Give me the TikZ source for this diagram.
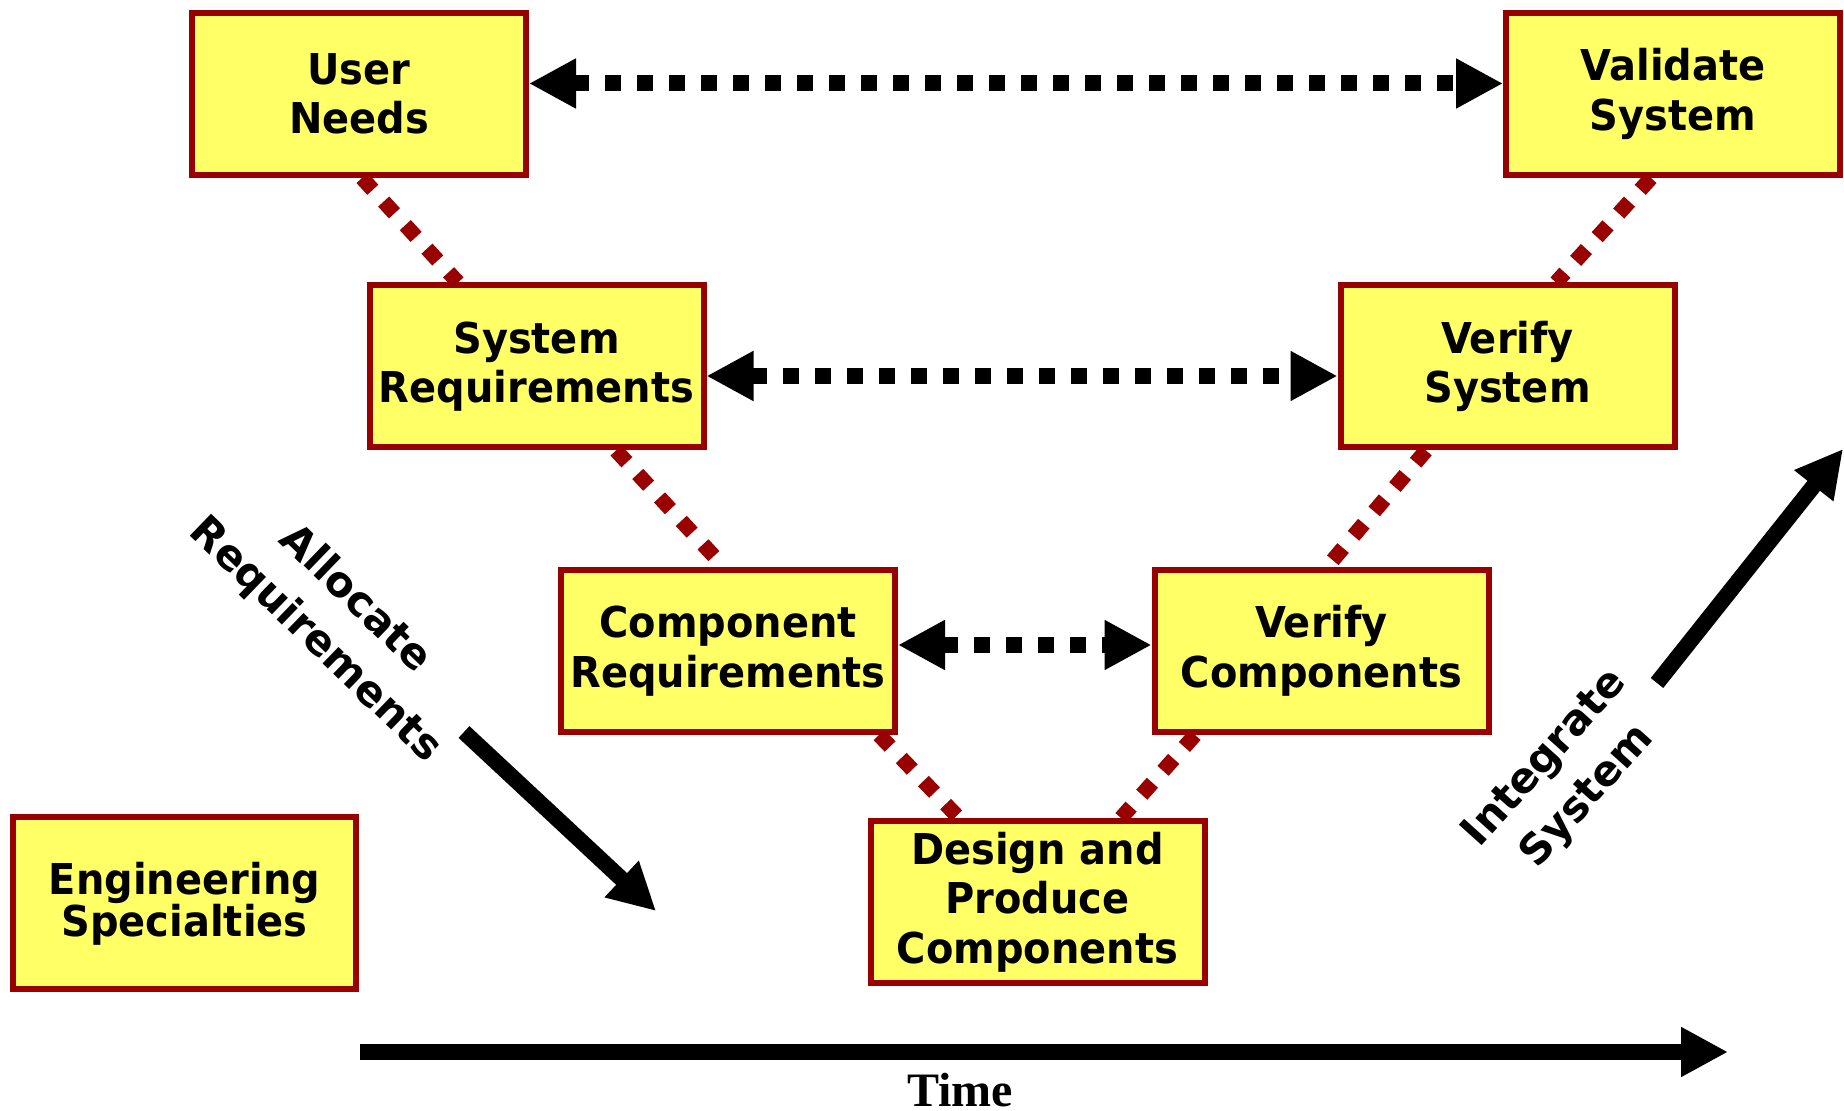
\documentclass[tikz,border=0pt]{standalone}
\usepackage{fontspec}
\setmainfont{DejaVu Sans}
\newfontfamily\boxfont[FakeStretch=0.94]{DejaVu Sans}
\newfontfamily\timefont{Liberation Serif}
\usetikzlibrary{arrows.meta,backgrounds}
\definecolor{vyellow}{RGB}{255,255,102}
\definecolor{vred}{RGB}{153,0,0}
\begin{document}
\begin{tikzpicture}[x=0.5pt,y=-0.5pt,
		vbox/.style={draw=vred, fill=vyellow, line width=3pt, minimum width=167pt, minimum height=81pt,
			inner sep=0pt, align=center, font=\boxfont\bfseries\fontsize{21.25}{24.75}\selectfont},
		reddots/.style={draw=vred, line width=7.5pt, dash pattern=on 8pt off 8pt},
		blackdots/.style={line width=8pt, dash pattern=on 8pt off 8pt,
			{Triangle[length=23.5pt,width=23.5pt]}-{Triangle[length=23.5pt,width=23.5pt]}},
		bigarrow/.style={line width=8pt, -{Triangle[length=23.5pt,width=23.5pt]}},
		turned/.style={align=center, font=\bfseries\fontsize{21}{28.5}\selectfont}]
	\useasboundingbox (0,0) rectangle (1844,1111);
	\foreach \n/\xy/\t in {needs/{(359,94)}/{User\\Needs}, validate/{(1673,94)}/{Validate\\System},
		sysreq/{(536.5,366.5)}/{System\\Requirements}, versys/{(1507.5,366.5)}/{Verify\\System},
		compreq/{(728,651)}/{Component\\Requirements}, vercomp/{(1321.5,651)}/{Verify\\Components},
		design/{(1037.5,902)}/{Design and\\Produce\\Components}}
	\node[vbox] (\n) at \xy {\t};
	\node[vbox, minimum width=171.5pt, minimum height=86pt, font=\boxfont\bfseries\fontsize{21.25}{21}\selectfont]
		(spec) at (184.5,903.5) {Engineering\\Specialties};
	% the V
	\begin{scope}[on background layer]
		\draw[reddots] ([xshift=1.5pt]needs.south) -- ([xshift=-39.25pt]sysreq.north);
		\draw[reddots] ([xshift=39.75pt]sysreq.south) -- ([xshift=-2pt]compreq.north);
		\draw[reddots] ([xshift=75.5pt]compreq.south) -- ([xshift=-39.25pt]design.north);
		\draw[reddots] ([xshift=-63.25pt]vercomp.south) -- ([xshift=41.75pt]design.north);
		\draw[reddots] ([xshift=-40.75pt]versys.south) -- ([xshift=2.75pt]vercomp.north);
		\draw[reddots] ([xshift=-11pt]validate.south) -- ([xshift=24.25pt]versys.north);
	\end{scope}
	\draw[blackdots] ([yshift=5.25pt]needs.east) -- ([yshift=5.25pt]validate.west);
	\draw[blackdots] ([yshift=-4.75pt]sysreq.east) -- ([yshift=-4.75pt]versys.west);
	\draw[blackdots] ([yshift=3pt]compreq.east) -- ([yshift=3pt]vercomp.west);
	% big arrows
	\coordinate (allocA) at (464,732);
	\coordinate (allocB) at (656,911);
	\coordinate (integA) at (1657,683);
	\coordinate (integB) at (1843,449);
	\coordinate (timeA) at (360,1052);
	\coordinate (timeB) at (1728,1052);
	\draw[bigarrow] (allocA) -- (allocB);
	\draw[bigarrow] (integA) -- (integB);
	\draw[bigarrow] (timeA) -- (timeB);
	\node[turned, rotate=-44] (alloclbl) at (335,620) {Allocate\\Requirements};
	\node[turned, rotate=48] (integlbl) at (1567,778) {Integrate\\System};
	\node[anchor=base, font=\timefont\bfseries\fontsize{24}{28}\selectfont] (timelbl) at (960,1107) {Time};
\end{tikzpicture}
\end{document}
